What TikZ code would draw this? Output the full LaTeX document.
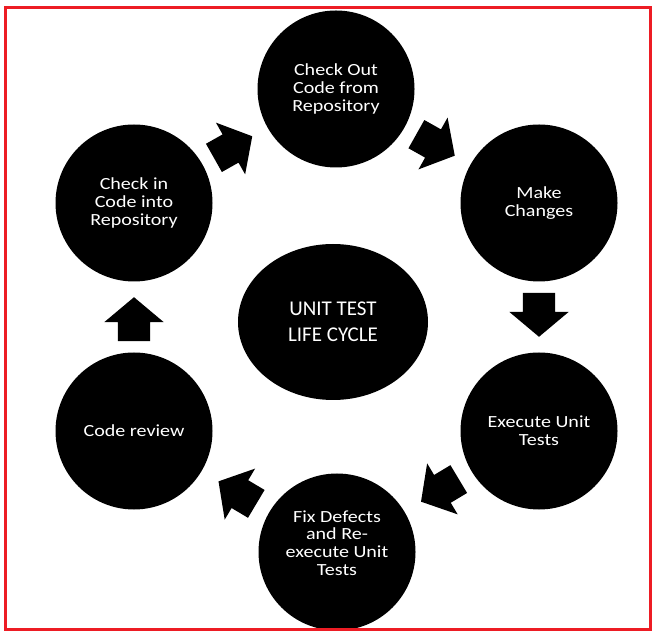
\documentclass[tikz,border=0pt]{standalone}
\usepackage{fontspec}
\newfontfamily\cyclefont[FakeStretch=1.18]{Carlito}
\newfontfamily\hubfont{Carlito}
\usepackage{tikz}
\usetikzlibrary{shapes.geometric, shapes.arrows}
\definecolor{framered}{RGB}{237,28,36}

\begin{document}
\begin{tikzpicture}[x=1pt, y=1pt,
  phase/.style={circle, fill=black, text=white, minimum size=157pt, inner sep=0pt,
    align=center, font=\cyclefont\fontsize{17}{17.8}\selectfont},
  flow/.style={single arrow, fill=black, minimum height=44pt, inner xsep=0pt, inner ysep=16pt,
    single arrow head extend=13.5pt, single arrow tip angle=100,
    sloped, allow upside down, xshift=-9pt}]
\useasboundingbox (0,0) rectangle (655,637);

% Etapas
\node[ellipse, fill=black, text=white, minimum width=190pt, minimum height=156pt,
  align=center, font=\hubfont\fontsize{21}{26}\selectfont] (hub) at (333,315) {UNIT TEST\\LIFE CYCLE};
\node[phase] (co) at (336,548) {Check Out\\Code from\\Repository};
\node[phase] (mc) at (539,434) {Make\\Changes};
\node[phase] (eu) at (539,206) {Execute Unit\\Tests};
\node[phase] (fd) at (337,85) {};
\node[align=center, text=white, font=\cyclefont\fontsize{17}{17.8}\selectfont]
  (fdtext) at ([yshift=9pt]fd.center) {Fix Defects\\and Re-\\execute Unit\\Tests};
\node[phase] (cr) at (134,206) {Code review};
\node[phase] (ci) at (134,434) {Check in\\Code into\\Repository};

% Flechas
\path
(ci) -- node[flow] (a1) {} (co)
(co) -- node[flow] (a2) {} (mc)
(mc) -- node[flow] (a3) {} (eu)
(eu) -- node[flow] (a4) {} (fd)
(fd) -- node[flow] (a5) {} (cr)
(cr) -- node[flow] (a6) {} (ci);

% Marco
\draw[framered, line width=3pt] (5.5,8) rectangle (650,629.5);
\end{tikzpicture}
\end{document}
